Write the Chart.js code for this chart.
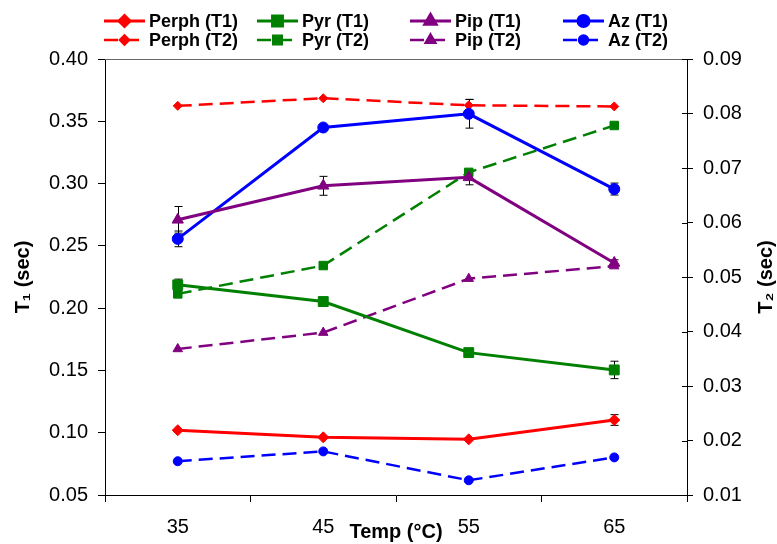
<!DOCTYPE html>
<html>
<head>
<meta charset="utf-8">
<script src="https://cdn.jsdelivr.net/npm/chart.js@4"></script>
<style>
  body { margin: 0; background: #fff; }
</style>
</head>
<body>
<canvas id="chart" width="777" height="544"></canvas>
<script>
// categories
const temps = ['35', '45', '55', '65'];

// T1 values (left axis, sec)
const perphT1 = [0.1020, 0.0963, 0.0947, 0.1102];
const pyrT1 = [0.2187, 0.2053, 0.1643, 0.1504];
const pipT1 = [0.2709, 0.2982, 0.3050, 0.2363];
const azT1 = [0.2556, 0.3450, 0.3560, 0.2956];

// T2 values (right axis, sec)
const perphT2 = [0.0814, 0.0828, 0.0815, 0.0813];
const pyrT2 = [0.0469, 0.0521, 0.0692, 0.0778];
const pipT2 = [0.0368, 0.0398, 0.0497, 0.0520];
const azT2 = [0.0162, 0.0180, 0.0127, 0.0169];

// error bar half widths
const perphT1Err = [0, 0, 0, 0.0043];
const pyrT1Err = [0.0046, 0, 0, 0.0070];
const pipT1Err = [0.0107, 0.0076, 0.0060, 0.0025];
const azT1Err = [0.0063, 0, 0.0115, 0.0048];
const perphT2Err = [0, 0, 0.0011, 0];

// axis ticks / titles
const t1Min = 0.05, t1Max = 0.40, t1Step = 0.05;
const t2Min = 0.01, t2Max = 0.09, t2Step = 0.01;
const xTitle = 'Temp (°C)';
const y1Title = 'T\u2081 (sec)';
const y2Title = 'T\u2082 (sec)';

const RED = '#ff0000', GREEN = '#008000', PURPLE = '#800080', BLUE = '#0000ff';

Chart.defaults.font.family = '"Liberation Sans", Arial, sans-serif';
Chart.defaults.color = '#000';

function solid(label, data, color, style, radius, errs) {
  return {
    label, data, yAxisID: 'y',
    borderColor: color, backgroundColor: color,
    borderWidth: 3,
    pointStyle: style, pointRadius: radius,
    pointBackgroundColor: color, pointBorderColor: color, pointBorderWidth: 1,
    errorBars: errs
  };
}

function dashed(label, data, color, style, radius, errs) {
  return {
    label, data, yAxisID: 'y2',
    borderColor: color, backgroundColor: color,
    borderWidth: 2.5, borderDash: [14, 7],
    pointStyle: style, pointRadius: radius,
    pointBackgroundColor: color, pointBorderColor: color, pointBorderWidth: 1,
    errorBars: errs
  };
}

const datasets = [
  solid('Perph (T1)', perphT1, RED, 'rectRot', 5.5, perphT1Err),
  solid('Pyr (T1)', pyrT1, GREEN, 'rect', 7, pyrT1Err),
  solid('Pip (T1)', pipT1, PURPLE, 'triangle', 6.5, pipT1Err),
  solid('Az (T1)', azT1, BLUE, 'circle', 5.5, azT1Err),
  dashed('Perph (T2)', perphT2, RED, 'rectRot', 4.5, perphT2Err),
  dashed('Pyr (T2)', pyrT2, GREEN, 'rect', 6, null),
  dashed('Pip (T2)', pipT2, PURPLE, 'triangle', 5.5, null),
  dashed('Az (T2)', azT2, BLUE, 'circle', 4.5, null)
];

// error bars, frame, legend and right title
const extras = {
  id: 'extras',
  beforeDatasetsDraw(chart) {
    const ctx = chart.ctx;
    ctx.save();
    ctx.strokeStyle = '#000';
    ctx.lineWidth = 1;
    chart.data.datasets.forEach((ds, i) => {
      if (!ds.errorBars) return;
      const meta = chart.getDatasetMeta(i);
      const scale = chart.scales[ds.yAxisID];
      ds.errorBars.forEach((e, j) => {
        if (!e) return;
        const x = Math.round(meta.data[j].x) + 0.5;
        const yt = scale.getPixelForValue(ds.data[j] + e);
        const yb = scale.getPixelForValue(ds.data[j] - e);
        ctx.beginPath();
        ctx.moveTo(x, yt); ctx.lineTo(x, yb);
        ctx.moveTo(x - 4, yt); ctx.lineTo(x + 4, yt);
        ctx.moveTo(x - 4, yb); ctx.lineTo(x + 4, yb);
        ctx.stroke();
      });
    });
    ctx.restore();
  },
  afterDraw(chart) {
    const ctx = chart.ctx;
    const area = chart.chartArea;
    ctx.save();
    // top frame line
    ctx.strokeStyle = '#666';
    ctx.lineWidth = 1;
    ctx.beginPath();
    ctx.moveTo(area.left, area.top + 0.5);
    ctx.lineTo(area.right, area.top + 0.5);
    ctx.stroke();

    // right axis ticks cross the axis: add the inner half
    const y2 = chart.scales.y2;
    ctx.strokeStyle = '#000';
    ctx.beginPath();
    y2.ticks.forEach(t => {
      const py = Math.round(y2.getPixelForValue(t.value)) + 0.5;
      ctx.moveTo(area.right - 5, py);
      ctx.lineTo(area.right, py);
    });
    ctx.stroke();

    // legend: 4 columns, T1 row over T2 row
    chart.data.datasets.forEach((ds, i) => {
      const col = i % 4, row = Math.floor(i / 4);
      const x0 = 104 + col * 153;
      const y = 21 + row * 19;
      ctx.strokeStyle = ds.borderColor;
      ctx.lineWidth = ds.borderWidth;
      ctx.setLineDash(ds.borderDash || []);
      ctx.beginPath();
      ctx.moveTo(x0, y); ctx.lineTo(x0 + 41, y);
      ctx.stroke();
      ctx.setLineDash([]);
      ctx.fillStyle = ds.borderColor;
      Chart.helpers.drawPoint(ctx, {
        pointStyle: ds.pointStyle, radius: ds.pointRadius, rotation: 0, borderWidth: 1
      }, x0 + 20.5, y);
      ctx.fillStyle = '#000';
      ctx.font = 'bold 18px "Liberation Sans", Arial, sans-serif';
      ctx.textBaseline = 'middle';
      ctx.textAlign = 'left';
      ctx.fillText(ds.label, x0 + 45, y + 1);
    });

    // right axis title, reading upward
    ctx.translate(766, (area.top + area.bottom) / 2);
    ctx.rotate(-Math.PI / 2);
    ctx.font = 'bold 20px "Liberation Sans", Arial, sans-serif';
    ctx.textAlign = 'center';
    ctx.textBaseline = 'middle';
    ctx.fillText(y2Title, 0, 0);
    ctx.restore();
  }
};

new Chart(document.getElementById('chart'), {
  type: 'line',
  data: { labels: temps, datasets },
  options: {
    responsive: false,
    animation: false,
    layout: { padding: { top: 59, left: 0, right: 0, bottom: 0 } },
    plugins: { legend: { display: false }, tooltip: { enabled: false } },
    scales: {
      x: {
        type: 'category',
        offset: true,
        grid: { offset: true, drawOnChartArea: false, tickLength: 7, color: '#000' },
        border: { color: '#000' },
        ticks: { font: { size: 20 }, padding: 13, maxRotation: 0 },
        title: { display: true, text: xTitle, font: { size: 20, weight: 'bold' }, padding: { top: 0, bottom: 0 } },
        afterFit(s) { s.height = 49; }
      },
      y: {
        position: 'left',
        min: t1Min, max: t1Max,
        grid: { drawOnChartArea: false, tickLength: 7, color: '#000' },
        border: { color: '#000' },
        ticks: { stepSize: t1Step, font: { size: 20 }, padding: 10, callback: v => v.toFixed(2) },
        title: { display: true, text: y1Title, font: { size: 20, weight: 'bold' }, padding: { top: 11, bottom: 0 } },
        afterFit(s) { s.width = 105; }
      },
      y2: {
        position: 'right',
        min: t2Min, max: t2Max,
        grid: { drawOnChartArea: false, tickLength: 6, color: '#000' },
        border: { color: '#000' },
        ticks: { stepSize: t2Step, font: { size: 20 }, padding: 10, callback: v => v.toFixed(2) },
        afterFit(s) { s.width = 90; }
      }
    }
  },
  plugins: [extras]
});
</script>
</body>
</html>
